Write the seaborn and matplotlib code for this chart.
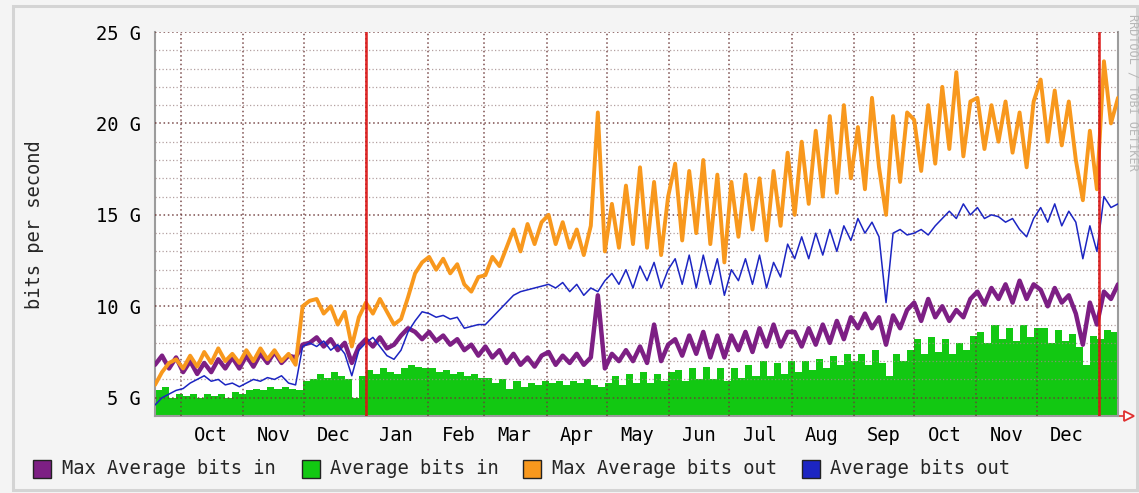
import pandas as pd
import matplotlib
matplotlib.use('Agg')
import matplotlib.pyplot as plt
import matplotlib.dates as mdates
from matplotlib.patches import Rectangle
from matplotlib.ticker import MultipleLocator, FuncFormatter, NullFormatter
import seaborn as sns

# Werte in Gbit/s, ein Wert alle 3,5 Tage ab 18.09.2010 (Monatsweise Zeilen)
max_in = [6.8, 7.3, 6.6, 7.2,
          6.4, 7.0, 6.3, 6.9, 6.4, 7.1, 6.6, 7.2, 6.6,
          7.3, 6.7, 7.4, 6.9, 7.5, 6.9, 7.3, 7.2, 7.9,
          8.0, 8.3, 7.8, 8.2, 7.6, 8.0, 6.9, 7.8,
          8.2, 7.8, 8.3, 7.7, 7.9, 8.4, 8.8, 8.6, 8.2,
          8.6, 8.1, 8.4, 7.9, 8.2, 7.6, 7.9, 7.3,
          7.8, 7.2, 7.6, 6.9, 7.4, 6.8, 7.2, 6.7, 7.3,
          7.5, 6.8, 7.3, 6.9, 7.4, 6.8, 7.2, 10.6, 6.6,
          7.4, 7.0, 7.6, 7.0, 7.8, 6.9, 9.0, 7.0, 7.9,
          8.2, 7.3, 8.4, 7.4, 8.6, 7.2, 8.4, 7.2,
          8.4, 7.6, 8.6, 7.5, 8.8, 7.8, 9.0, 7.8, 8.6,
          8.6, 7.8, 8.8, 7.9, 9.0, 8.0, 9.2, 8.2, 9.4,
          8.8, 9.6, 8.8, 9.4, 7.9, 9.5, 8.8, 9.8,
          10.2, 9.2, 10.4, 9.4, 10.0, 9.2, 9.8, 9.4, 10.4,
          10.8, 10.1, 11.0, 10.4, 11.2, 10.2, 11.4, 10.4, 11.2,
          10.9, 10.0, 11.0, 10.2, 10.6, 9.6, 7.9, 10.2,
          9.0, 10.8, 10.4, 11.2]

avg_in = [5.4, 5.6, 5.0, 5.2,
          5.1, 5.2, 5.0, 5.2, 5.1, 5.2, 5.0, 5.3, 5.2,
          5.4, 5.5, 5.4, 5.6, 5.5, 5.6, 5.5, 5.4, 5.9,
          6.0, 6.3, 6.1, 6.4, 6.2, 6.0, 5.0, 6.2,
          6.5, 6.3, 6.6, 6.4, 6.3, 6.6, 6.8, 6.7, 6.6,
          6.6, 6.4, 6.5, 6.3, 6.4, 6.2, 6.3, 6.1,
          6.1, 5.8, 6.0, 5.5, 5.9, 5.6, 5.8, 5.7, 5.9,
          5.8, 5.9, 5.7, 5.9, 5.8, 6.0, 5.7, 5.6, 5.8,
          6.2, 5.7, 6.3, 5.8, 6.4, 5.8, 6.3, 5.9, 6.4,
          6.5, 5.9, 6.6, 6.0, 6.7, 6.0, 6.6, 5.9,
          6.6, 6.1, 6.8, 6.2, 7.0, 6.2, 6.9, 6.3, 7.0,
          6.4, 7.0, 6.5, 7.1, 6.6, 7.3, 6.8, 7.4, 7.0,
          7.4, 6.8, 7.6, 6.9, 6.2, 7.4, 7.0, 7.6,
          8.2, 7.4, 8.3, 7.5, 8.2, 7.4, 8.0, 7.6, 8.4,
          8.6, 8.0, 9.0, 8.2, 8.8, 8.1, 9.0, 8.3, 8.8,
          8.8, 8.0, 8.7, 8.1, 8.5, 7.8, 6.8, 8.4,
          8.2, 8.7, 8.6, 8.8]

max_out = [5.7, 6.4, 6.9, 7.1,
           6.6, 7.3, 6.7, 7.5, 6.9, 7.7, 7.0, 7.4, 6.9,
           7.6, 7.0, 7.7, 7.1, 7.6, 7.0, 7.4, 6.8, 10.0,
           10.3, 10.4, 9.6, 10.0, 9.0, 9.7, 7.8, 9.4,
           10.2, 9.6, 10.4, 9.7, 9.0, 9.3, 10.5, 11.8, 12.4,
           12.7, 12.0, 12.6, 11.8, 12.3, 11.2, 10.8, 11.6,
           11.7, 12.7, 12.2, 13.2, 14.2, 13.0, 14.5, 13.4, 14.6,
           15.0, 13.4, 14.6, 13.2, 14.2, 12.8, 14.4, 20.6, 13.0,
           15.6, 13.2, 16.6, 13.4, 17.6, 13.2, 16.8, 12.8, 16.0,
           17.8, 13.6, 17.4, 14.0, 18.0, 13.4, 17.2, 12.4,
           16.8, 13.8, 17.2, 14.2, 17.0, 13.6, 17.4, 14.4, 18.4,
           15.0, 19.0, 15.6, 19.6, 16.0, 20.4, 16.2, 21.0, 17.0,
           19.8, 16.4, 21.4, 17.6, 15.0, 20.4, 16.8, 20.6,
           20.2, 17.4, 21.0, 17.8, 22.0, 18.6, 22.8, 18.2, 21.2,
           21.4, 18.6, 21.0, 19.0, 21.2, 18.4, 20.6, 17.6, 21.2,
           22.4, 19.0, 21.8, 18.8, 21.2, 18.0, 15.8, 19.6,
           16.4, 23.4, 20.0, 21.4]

avg_out = [4.6, 5.0, 5.2, 5.4,
           5.5, 5.8, 6.0, 6.2, 5.9, 6.0, 5.7, 5.8, 5.6,
           5.8, 6.0, 5.9, 6.1, 6.0, 6.2, 5.8, 5.7, 7.8,
           8.0, 7.8, 8.1, 7.6, 7.9, 7.4, 6.2, 7.6,
           8.0, 8.3, 7.8, 7.3, 7.1, 7.6, 8.6, 9.2, 9.7,
           9.6, 9.4, 9.5, 9.3, 9.4, 8.8, 8.9, 9.0,
           9.0, 9.4, 9.8, 10.2, 10.6, 10.8, 10.9, 11.0, 11.1,
           11.2, 11.0, 11.3, 10.8, 11.2, 10.6, 11.0, 10.8, 11.4,
           11.8, 11.2, 12.0, 11.0, 12.2, 11.4, 12.4, 11.0, 12.0,
           12.6, 11.2, 12.8, 11.0, 12.8, 11.2, 12.6, 10.6,
           12.0, 11.4, 12.6, 11.2, 12.8, 11.0, 12.4, 11.6, 13.4,
           12.6, 13.8, 12.6, 14.0, 12.8, 14.2, 13.0, 14.4, 13.6,
           14.8, 14.0, 14.6, 13.8, 10.2, 14.0, 14.2, 13.9,
           14.0, 14.2, 13.9, 14.4, 14.8, 15.2, 14.8, 15.6, 15.0,
           15.4, 14.8, 15.0, 14.9, 14.6, 14.8, 14.2, 13.8, 14.8,
           15.4, 14.6, 15.6, 14.4, 15.2, 14.6, 12.6, 14.4,
           13.0, 16.0, 15.4, 15.6]

legend_labels = ['Max Average bits in', 'Average bits in',
                 'Max Average bits out', 'Average bits out']
colors = ['#7d1f84', '#12c812', '#f8981d', '#1c25c2']

dates = pd.date_range('2010-09-18', periods=len(avg_in), freq='84h')
df = pd.DataFrame({'date': dates, 'max_in': max_in, 'avg_in': avg_in,
                   'max_out': max_out, 'avg_out': avg_out})

sns.set_style('white')
plt.rcParams['font.family'] = ['DejaVu Sans Mono']

fig = plt.figure(figsize=(11.39, 4.93), dpi=100, facecolor='#f4f4f4')
ax = fig.add_axes([155/1139, 1-416/493, (1118-155)/1139, (416-32)/493])
ax.set_facecolor('white')

# Flaeche + Linien
ax.fill_between(df['date'], 0, df['avg_in'], step='post', color=colors[1], lw=0, zorder=1)
sns.lineplot(data=df, x='date', y='max_in', ax=ax, color=colors[0], lw=3.2,
             errorbar=None, zorder=3)
sns.lineplot(data=df, x='date', y='max_out', ax=ax, color=colors[2], lw=2.8,
             errorbar=None, zorder=3)
sns.lineplot(data=df, x='date', y='avg_out', ax=ax, color=colors[3], lw=1.1,
             errorbar=None, zorder=4)

# Jahreswechsel
for d in ['2011-01-01', '2012-01-01']:
    ax.axvline(pd.Timestamp(d), color='#dd1515', lw=1.9, alpha=0.9, zorder=5)

ax.set_xlim(dates[0], dates[-1])
ax.set_ylim(4, 25)
ax.set_xlabel('')
ax.set_ylabel('')

grid_major = '#6e3a3a'
grid_minor = '#a08888'
ax.xaxis.set_major_locator(mdates.MonthLocator())
ax.xaxis.set_major_formatter(NullFormatter())
ax.xaxis.set_minor_locator(mdates.MonthLocator(bymonthday=16))
ax.xaxis.set_minor_formatter(mdates.DateFormatter('%b'))
ax.yaxis.set_major_locator(MultipleLocator(5))
ax.yaxis.set_minor_locator(MultipleLocator(1))
ax.yaxis.set_major_formatter(FuncFormatter(lambda v, p: f'{v:.0f} G'))

ax.grid(which='major', axis='both', color=grid_major, ls=(0, (1, 1.8)), lw=1.1, alpha=0.9)
ax.grid(which='minor', axis='y', color=grid_minor, ls=(0, (1, 1.8)), lw=0.9, alpha=0.8)
ax.set_axisbelow(False)

ax.tick_params(axis='x', which='minor', length=0, pad=7, labelsize=13.5, labelcolor='black')
ax.tick_params(axis='x', which='major', length=4, direction='out', color=grid_major, width=1.2)
ax.tick_params(axis='y', which='major', length=4, direction='out', color=grid_major, width=1.2,
               pad=6, labelsize=13.5, labelcolor='black')
ax.tick_params(axis='y', which='minor', length=2, direction='out', color=grid_minor)

for s in ['left', 'bottom', 'right']:
    ax.spines[s].set_color('#9c9c9c')
    ax.spines[s].set_linewidth(1.5)
ax.spines['top'].set_visible(False)

# Pfeil am Ende der x-Achse
ax.plot([1.0, 1.011], [0, 0], color='#e03030', lw=1.2, transform=ax.transAxes, clip_on=False)
ax.plot([1.011], [0], marker='>', ms=7, mfc='white', mec='#e03030', mew=1.3,
        transform=ax.transAxes, clip_on=False)

fig.text(35/1139, 1-225/493, 'bits per second', rotation=90, ha='center', va='center',
         fontsize=13.5)
fig.text(1133/1139, 1-14/493, 'RRDTOOL / TOBI OETIKER', rotation=270, ha='center', va='top',
         fontsize=8.5, color='#b8b8b8')

# Legende
sq_x = [33, 302, 523, 802]
txt_x = [62, 330, 552, 830]
for lab, c, sx, tx in zip(legend_labels, colors, sq_x, txt_x):
    fig.patches.append(Rectangle((sx/1139, 1-478/493), 18/1139, 18/493, transform=fig.transFigure,
                                 facecolor=c, edgecolor='#222222', lw=1.0))
    fig.text(tx/1139, 1-469/493, lab, ha='left', va='center', fontsize=13.5)

# Rahmen
fig.patches.append(Rectangle((13/1139, 1-490/493), 1124/1139, 484/493, transform=fig.transFigure,
                             fill=False, edgecolor='#d4d4d4', lw=2.2))

fig.savefig('out.png', dpi=100, facecolor=fig.get_facecolor())
